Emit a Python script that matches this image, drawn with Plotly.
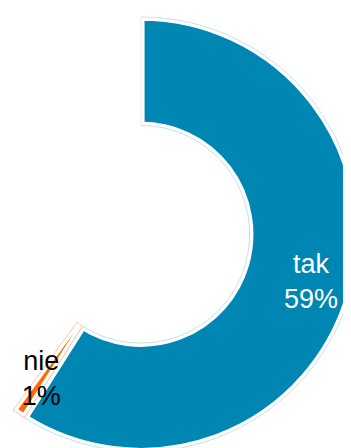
import plotly.graph_objects as go

# odpowiedzi (procent)
labels = ["tak", "nie"]
shares = [59, 1]

colors = ["#0086B3", "#FF6A00"]
outline_colors = ["#BFE1ED", "#FFC9A6"]
text_colors = ["white", "black"]

# slice position on the angular axis: percent -> degrees, starting at 12 o'clock
starts = []
acc = 0
for s in shares:
    starts.append(acc)
    acc += s
centers = [(a + s / 2) * 3.6 for a, s in zip(starts, shares)]
widths = [s * 3.6 for s in shares]

INNER, OUTER = 0.51, 1.018  # ring limits in radial axis units

fig = go.Figure()

# filled slices, white stroke makes the gaps
fig.add_trace(go.Barpolar(
    theta=centers, width=widths,
    r=[OUTER - INNER] * len(shares), base=INNER,
    marker=dict(color=colors, line=dict(color="white", width=7.5)),
    hoverinfo="skip",
))

# thin light outline round each slice
fig.add_trace(go.Barpolar(
    theta=centers, width=widths,
    r=[OUTER - INNER] * len(shares), base=INNER,
    marker=dict(color="rgba(0,0,0,0)", line=dict(color=outline_colors, width=1)),
    hoverinfo="skip",
))

# labels
fig.add_trace(go.Scatterpolar(
    theta=centers, r=[0.83] * len(shares),
    mode="text",
    text=[f"{l}<br>{s}%" for l, s in zip(labels, shares)],
    textfont=dict(color=text_colors, size=27, family="Liberation Sans, Arial, sans-serif"),
    hoverinfo="skip",
))

fig.update_layout(
    width=351, height=448,
    margin=dict(l=0, r=0, t=0, b=0),
    showlegend=False,
    paper_bgcolor="white",
    polar=dict(
        bgcolor="white",
        barmode="overlay",
        hole=0,
        sector=[-127.5, 90],
        domain=dict(x=[0, 1], y=[0, 0.99]),
        radialaxis=dict(range=[0, 1.022], visible=False),
        angularaxis=dict(visible=False, direction="clockwise", rotation=90),
    ),
)

fig.write_html("out.html")
